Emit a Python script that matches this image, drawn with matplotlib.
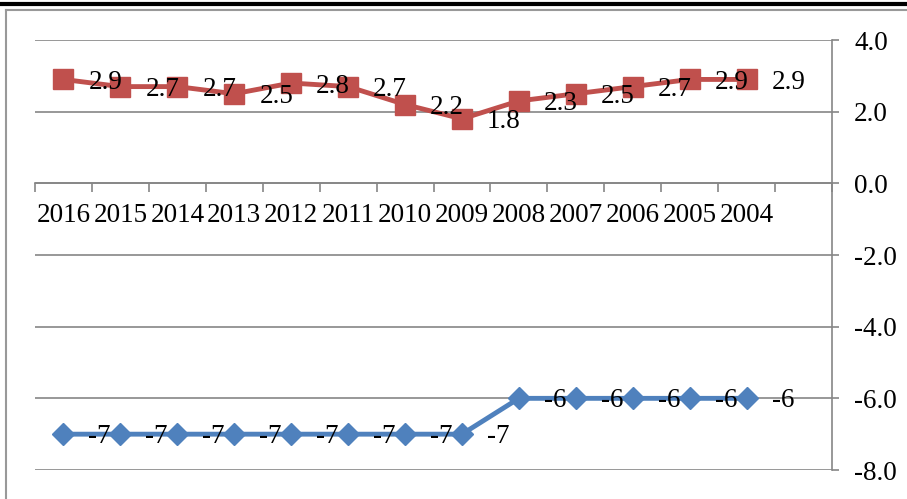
import matplotlib
matplotlib.use("Agg")
from matplotlib import pyplot as plt
from matplotlib.lines import Line2D

years = ["2016", "2015", "2014", "2013", "2012", "2011", "2010",
         "2009", "2008", "2007", "2006", "2005", "2004"]
red_vals = [2.9, 2.7, 2.7, 2.5, 2.8, 2.7, 2.2, 1.8, 2.3, 2.5, 2.7, 2.9, 2.9]
blue_vals = [-7, -7, -7, -7, -7, -7, -7, -7, -6, -6, -6, -6, -6]
y_ticks = [4.0, 2.0, 0.0, -2.0, -4.0, -6.0, -8.0]

c_red = "#C0504D"
c_blue = "#4F81BD"
c_grid = "#868686"

plt.rcParams['font.family'] = ['Liberation Serif', 'DejaVu Serif']
fs = 19.5

fig = plt.figure(figsize=(9.07, 4.99), dpi=100)
ax = fig.add_axes([0.0386, 0.0581, 0.8787, 0.8617])

x = list(range(len(years)))
ax.plot(x, red_vals, color=c_red, lw=3.5, marker='s', markersize=14, zorder=3)
ax.plot(x, blue_vals, color=c_blue, lw=3.5, marker='D', markersize=11, zorder=3)

for xi, v in zip(x, red_vals):
	ax.annotate("%.1f" % v, (xi, v), xytext=(25, -3), textcoords='offset pixels',
		ha='left', va='center', fontsize=fs, zorder=4)
for xi, v in zip(x, blue_vals):
	ax.annotate("%d" % v, (xi, v), xytext=(25, -2), textcoords='offset pixels',
		ha='left', va='center', fontsize=fs, zorder=4)

ax.set_xlim(-0.5, len(years) + 0.5)
ax.set_ylim(-8, 4)

# gridlines
for t in y_ticks:
	ax.axhline(t, color=c_grid, lw=1.2, zorder=1)

ax.yaxis.tick_right()
ax.set_yticks(y_ticks)
ax.set_yticklabels(["%.1f" % t for t in y_ticks], fontsize=fs)
ax.tick_params(axis='y', direction='out', length=5, width=1.2, color=c_grid, pad=11)

# x axis sits at zero, ticks at category boundaries
ax.spines['bottom'].set_position(('data', 0))
ax.set_xticks([i - 0.5 for i in range(len(years) + 2)])
ax.set_xticklabels([])
ax.set_xticks(x, minor=True)
ax.set_xticklabels(years, minor=True, fontsize=fs)
ax.tick_params(axis='x', which='major', direction='out', length=6.5, width=1.2, color=c_grid)
ax.tick_params(axis='x', which='minor', length=0, pad=14)

for s in ['top', 'left']:
	ax.spines[s].set_visible(False)
ax.spines['right'].set_color(c_grid)
ax.spines['right'].set_linewidth(1.2)
ax.spines['bottom'].set_color(c_grid)
ax.spines['bottom'].set_linewidth(1.2)

# outer frame and top rule
fig.add_artist(Line2D([6/907, 6/907], [0, 1 - 10/499], color="#999999", lw=1.5))
fig.add_artist(Line2D([6/907, 1], [1 - 10/499, 1 - 10/499], color="#999999", lw=1.5))
fig.add_artist(Line2D([0, 1], [1 - 3.5/499, 1 - 3.5/499], color="black", lw=3))

fig.savefig("out.png", dpi=100)
